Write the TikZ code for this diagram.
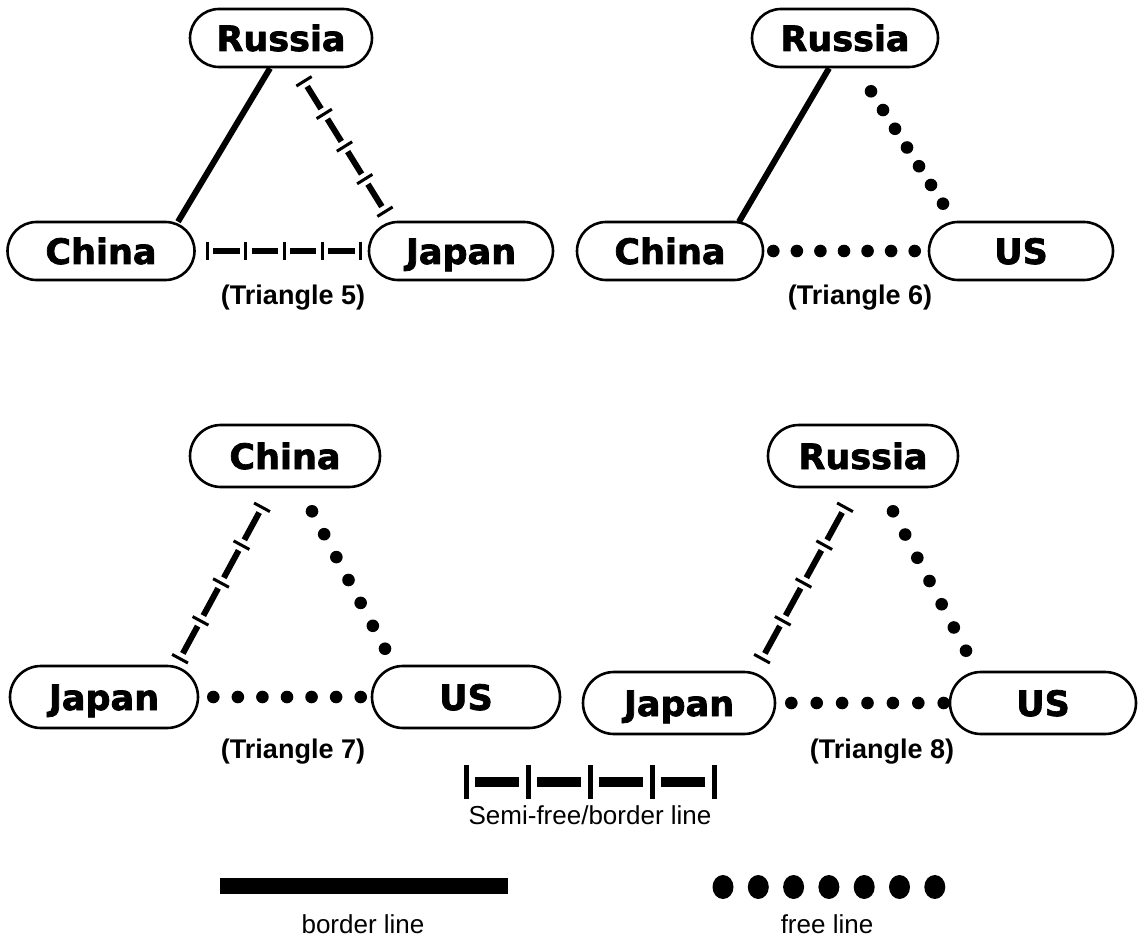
\documentclass[tikz,border=0pt]{standalone}
\usepackage{fontspec}
\setmainfont{Liberation Sans}
\newfontfamily\boxfont{DejaVu Sans}[BoldFeatures={FakeBold=2}]
\usetikzlibrary{calc}

\tikzset{
  country/.style={draw, line width=2.6pt, rounded corners=29pt,
    minimum height=58pt, minimum width=184pt, inner sep=0pt,
    text height=26pt, text depth=0pt,
    font=\boxfont\bfseries\fontsize{35}{40}\selectfont},
  countrylow/.style={country, rounded corners=31pt, minimum height=62pt},
  caption/.style={font=\bfseries\fontsize{27}{30}\selectfont},
  legendtext/.style={font=\fontsize{26}{30}\selectfont},
  borderline/.style={line width=6pt},
}

% semi-free/border line: five cross ticks joined by four thick dashes
% #1 start, #2 end, #3 half tick length, #4 tick width, #5 dash width, #6 gap
\newcommand\semifreeline[6]{%
  \coordinate (sfA) at (#1);
  \coordinate (sfB) at (#2);
  \foreach \k in {0,...,4}{\coordinate (sf-\k) at ($(sfA)!\k/4!(sfB)$);}
  \coordinate (sf-n) at ($(sfA)!#3!90:(sfB)$);
  \foreach \k in {0,...,4}{\draw[line width=#4] ($(sf-\k)+(sf-n)-(sfA)$) -- ($(sf-\k)-(sf-n)+(sfA)$);}
  \foreach \a/\b in {0/1,1/2,2/3,3/4}{\draw[line width=#5] ($(sf-\a)!#6!(sf-\b)$) -- ($(sf-\b)!#6!(sf-\a)$);}
}
% free line: seven round dots
\newcommand\freeline[3]{%
  \coordinate (flA) at (#1);
  \coordinate (flB) at (#2);
  \foreach \k in {0,...,6}{\fill ($(flA)!\k/6!(flB)$) circle (#3);}
}

\begin{document}
\begin{tikzpicture}[x=1pt, y=-1pt]
\useasboundingbox (0,0) rectangle (1138,941);

% ---------- Triangle 5 ----------
\node[country, minimum width=182pt] (r5) at (281,38) {Russia};
\node[country, minimum width=187pt] (c5) at (101,251) {China};
\node[country, minimum width=184pt] (j5) at (461,251) {Japan};
\draw[borderline] ([xshift=-11pt]r5.south) -- ([xshift=77pt,yshift=-1pt]c5.north);
\semifreeline{[xshift=23pt,yshift=-13pt]r5.south}{[xshift=-76pt,yshift=9pt]j5.north}{9pt}{3pt}{6pt}{6pt}
\semifreeline{[xshift=11.5pt]c5.east}{[xshift=-7pt]j5.west}{9pt}{3pt}{6pt}{6pt}
\node[caption] (t5) at (293,298) {(Triangle 5)};

% ---------- Triangle 6 ----------
\node[country, minimum width=186pt] (r6) at (845,38) {Russia};
\node[country, minimum width=186pt] (c6) at (670,251) {China};
\node[country, minimum width=184pt] (u6) at (1021,251) {US};
\draw[borderline] ([xshift=-16pt]r6.south) -- ([xshift=69pt,yshift=-1pt]c6.north);
\freeline{[xshift=26pt,yshift=-23pt]r6.south}{[xshift=-78pt,yshift=17pt]u6.north}{6.3pt}
\freeline{[xshift=9pt]c6.east}{[xshift=-13pt]u6.west}{6.3pt}
\node[caption] (t6) at (860,298) {(Triangle 6)};

% ---------- Triangle 7 ----------
\node[countrylow, minimum width=190pt] (c7) at (285,456) {China};
\node[countrylow, minimum width=188pt] (j7) at (104,697) {Japan};
\node[countrylow, minimum width=188pt] (u7) at (466,697) {US};
\semifreeline{[xshift=-23pt,yshift=-19pt]c7.south}{[xshift=76pt,yshift=6pt]j7.north}{9pt}{3pt}{6pt}{6pt}
\freeline{[xshift=27pt,yshift=-23pt]c7.south}{[xshift=-81pt,yshift=16pt]u7.north}{6.3pt}
\freeline{[xshift=14pt]j7.east}{[xshift=-10pt]u7.west}{6.3pt}
\node[caption] (t7) at (293,752) {(Triangle 7)};

% ---------- Triangle 8 ----------
\node[countrylow, minimum width=190pt] (r8) at (863,456) {Russia};
\node[countrylow, minimum width=192pt] (j8) at (679,703) {Japan};
\node[countrylow, minimum width=186pt] (u8) at (1043,703) {US};
\semifreeline{[xshift=-18pt,yshift=-19pt]r8.south}{[xshift=83pt,yshift=12pt]j8.north}{9pt}{3pt}{6pt}{6pt}
\freeline{[xshift=30pt,yshift=-23pt]r8.south}{[xshift=-77pt,yshift=20pt]u8.north}{6.3pt}
\freeline{[xshift=15pt]j8.east}{[xshift=-5pt]u8.west}{6.3pt}
\node[caption] (t8) at (882,752) {(Triangle 8)};

% ---------- Legend ----------
\coordinate (legsfL) at (466,782);
\coordinate (legsfR) at (714,782);
\semifreeline{legsfL}{legsfR}{17pt}{5pt}{10pt}{9pt}
\node[legendtext] (legsf) at (590,815) {Semi-free/border line};

\fill (220,878) rectangle (508,894);
\node[legendtext] (legbl) at (363,924) {border line};

\foreach \k in {0,...,6}{\fill ({723+\k*35.3},887) ellipse (10.5pt and 12pt);}
\node[legendtext] (legfl) at (827,924) {free line};
\end{tikzpicture}
\end{document}
